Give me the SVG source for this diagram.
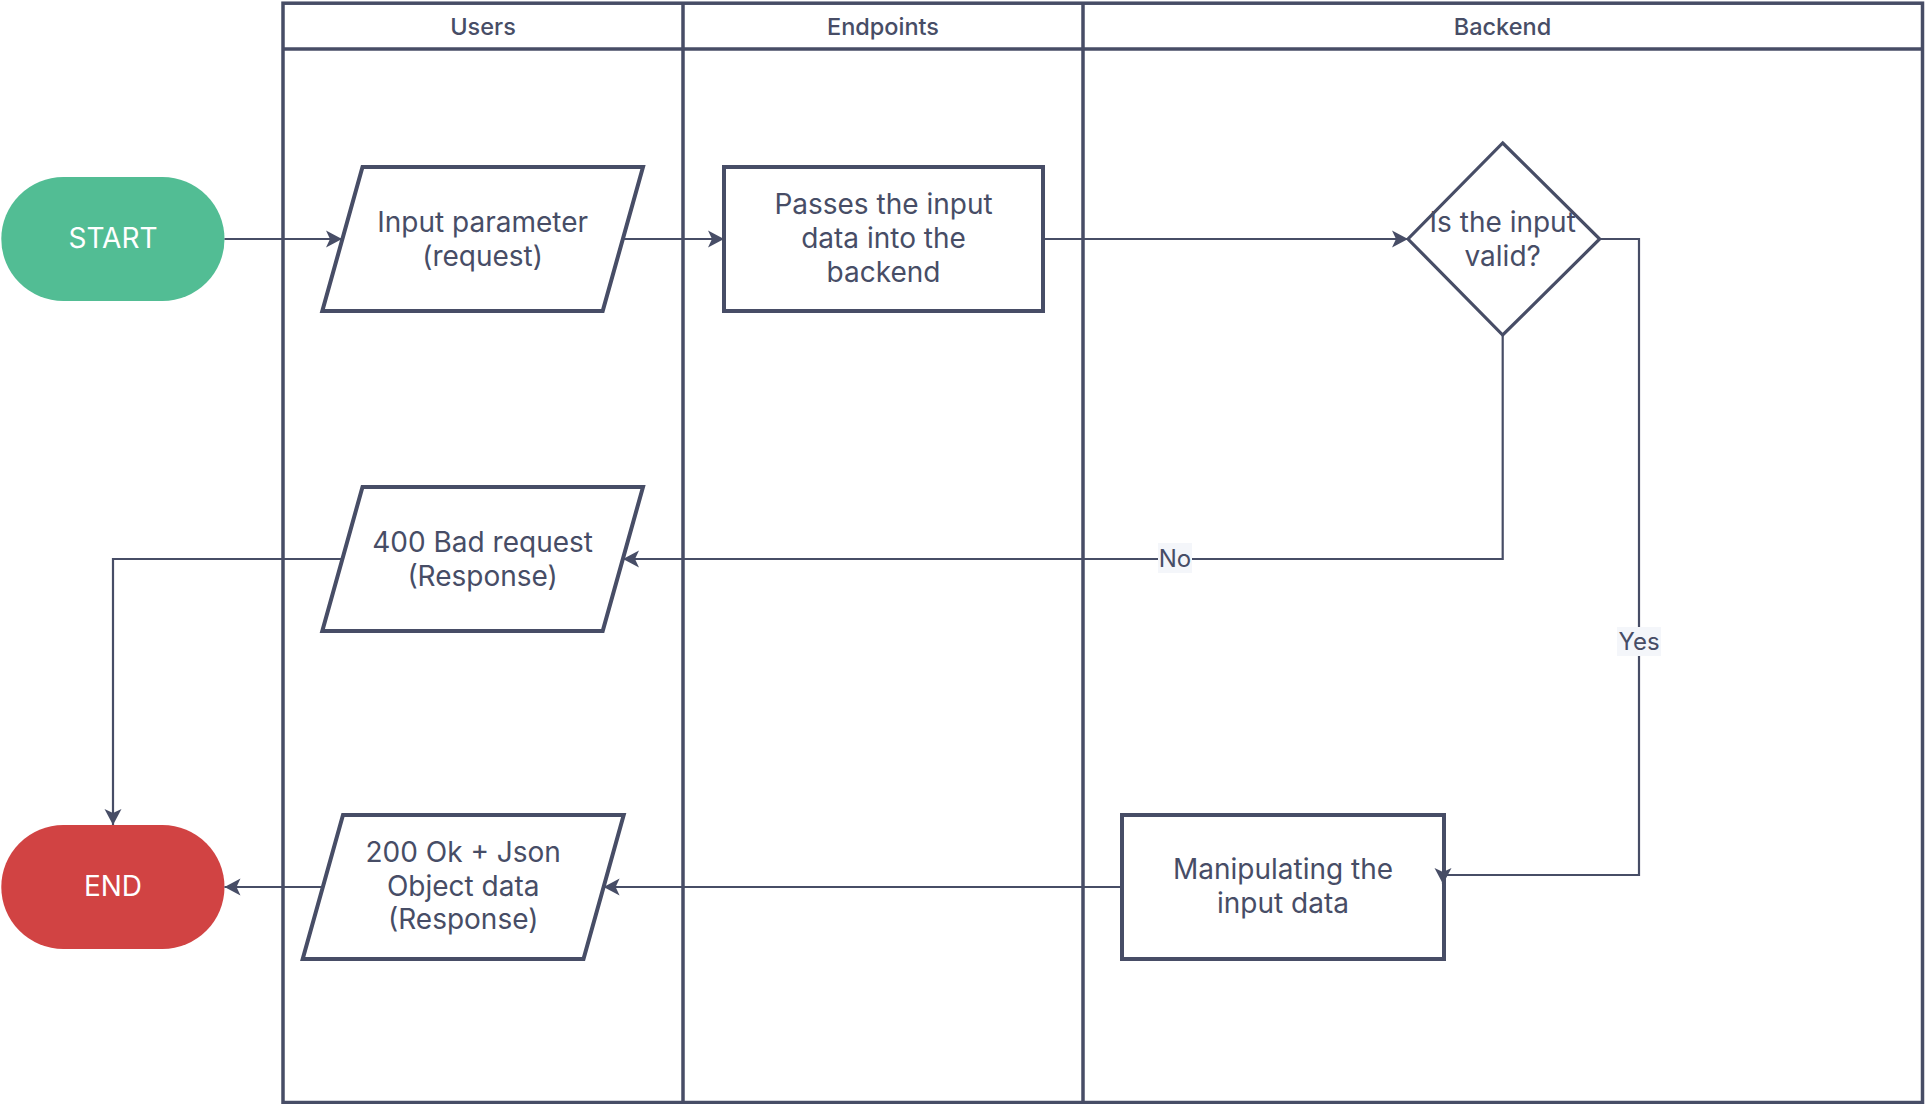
<svg xmlns="http://www.w3.org/2000/svg" width="1926" height="1104" viewBox="0 0 1926 1104">
<style>
  .lane{fill:none;stroke:#474D66;stroke-width:3.5}
  .shape{fill:#FFFFFF;stroke:#474D66;stroke-width:4;stroke-linejoin:miter}
  .dia{fill:#FFFFFF;stroke:#474D66;stroke-width:3.2}
  .t{font-family:Inter,"Noto Sans","Liberation Sans",sans-serif;font-size:28px;fill:#474D66;text-anchor:middle;dominant-baseline:central}
  .h{font-family:Inter,"Noto Sans","Liberation Sans",sans-serif;font-size:23.5px;font-weight:500;fill:#474D66;text-anchor:middle;dominant-baseline:central}
  .w{font-family:Inter,"Noto Sans","Liberation Sans",sans-serif;font-size:28px;fill:#FFFFFF;text-anchor:middle;dominant-baseline:central}
  .lbl{font-family:Inter,"Noto Sans","Liberation Sans",sans-serif;font-size:24px;fill:#474D66;text-anchor:middle;dominant-baseline:central}
  .lblbg{fill:#F4F6FA}
  .c{fill:none;stroke:#474D66;stroke-width:2.2;marker-end:url(#arr)}
</style>
<defs>
  <marker id="arr" markerUnits="userSpaceOnUse" markerWidth="20" markerHeight="20" viewBox="-17 -10 20 20" refX="0" refY="0" orient="auto">
    <path d="M0,0 L-16,-8.5 L-12,0 L-16,8.5 Z" fill="#474D66"/>
  </marker>
</defs>
<rect width="1926" height="1104" fill="#FFFFFF"/>
<g id="pool">
  <rect class="lane" x="283" y="3.2" width="1639.5" height="1099.3"/>
  <line class="lane" x1="283" y1="49" x2="1922.5" y2="49"/>
  <line class="lane" x1="683" y1="3.2" x2="683" y2="1102.5"/>
  <line class="lane" x1="1083" y1="3.2" x2="1083" y2="1102.5"/>
  <text class="h" x="483" y="26.5">Users</text>
  <text class="h" x="883" y="26.5">Endpoints</text>
  <text class="h" x="1502.5" y="26.5">Backend</text>
</g>
<g id="start">
  <rect x="1.3" y="177" width="223.2" height="124" rx="62" ry="62" fill="#52BD94"/>
  <text class="w" x="113" y="238">START</text>
</g>
<g id="end">
  <rect x="1.3" y="825" width="223.2" height="124" rx="62" ry="62" fill="#D14343"/>
  <text class="w" x="113" y="886">END</text>
</g>
<g id="input">
  <polygon class="shape" points="362.5,167 643,167 602.7,311 322.3,311"/>
  <text class="t" x="482.6" y="222">Input parameter</text>
  <text class="t" x="482.6" y="256">(request)</text>
</g>
<g id="passes">
  <rect class="shape" x="724" y="167" width="319" height="144"/>
  <text class="t" x="883.5" y="204">Passes the input</text>
  <text class="t" x="883.5" y="238">data into the</text>
  <text class="t" x="883.5" y="272">backend</text>
</g>
<g id="decision">
  <polygon class="dia" points="1502.7,143 1599.7,239 1502.7,335 1408,239"/>
  <text class="t" x="1502.7" y="222">Is the input</text>
  <text class="t" x="1502.7" y="256">valid?</text>
</g>
<g id="bad">
  <polygon class="shape" points="362.5,487 643,487 602.7,631 322.3,631"/>
  <text class="t" x="482.6" y="542">400 Bad request</text>
  <text class="t" x="482.6" y="576">(Response)</text>
</g>
<g id="ok">
  <polygon class="shape" points="343,815 623.7,815 583.5,959 302.7,959"/>
  <text class="t" x="463.2" y="852">200 Ok + Json</text>
  <text class="t" x="463.2" y="886">Object data</text>
  <text class="t" x="463.2" y="919">(Response)</text>
</g>
<g id="manip">
  <rect class="shape" x="1122" y="815" width="322" height="144"/>
  <text class="t" x="1283" y="869">Manipulating the</text>
  <text class="t" x="1283" y="903">input data</text>
</g>
<g id="connectors">
  <path class="c" d="M224.5,239 H342"/>
  <path class="c" d="M622.8,239 H724"/>
  <path class="c" d="M1043,239 H1408"/>
  <path class="c" d="M1502.7,335 V559 H623"/>
  <path class="c" d="M1600,239 H1639 V875 H1443 V884"/>
  <path class="c" d="M342.4,559 H113 V825"/>
  <path class="c" d="M1122,887 H603.6"/>
  <path class="c" d="M323,887 H224.5"/>
  <g id="label-no">
    <rect class="lblbg" x="1158" y="543" width="34" height="30"/>
    <text class="lbl" x="1175" y="558">No</text>
  </g>
  <g id="label-yes">
    <rect class="lblbg" x="1617" y="627" width="44" height="29"/>
    <text class="lbl" x="1639" y="641">Yes</text>
  </g>
</g>
</svg>
